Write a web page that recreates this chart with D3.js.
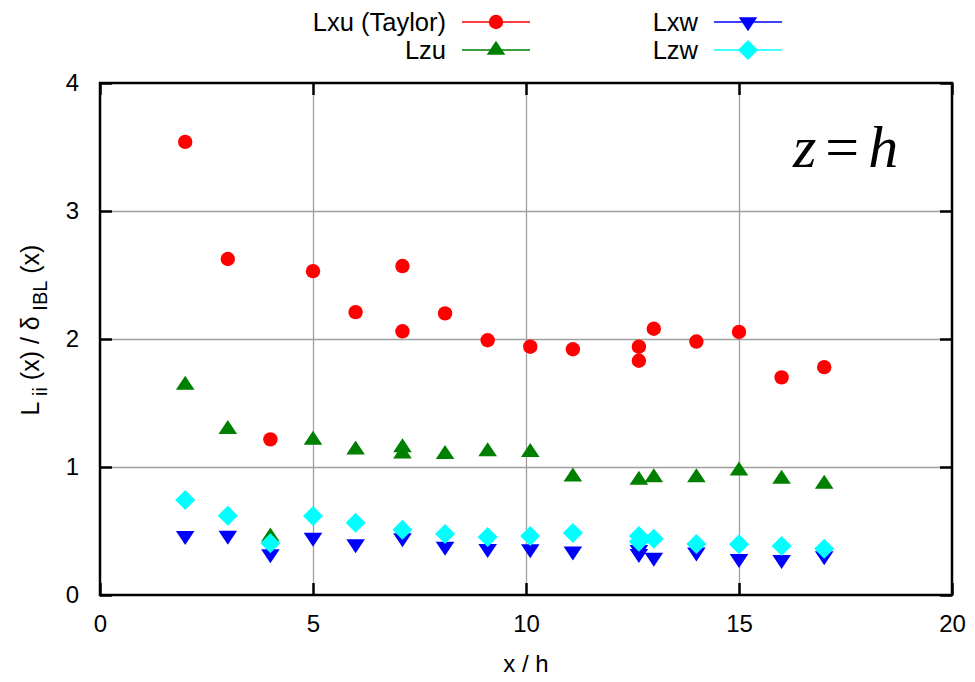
<!DOCTYPE html>
<html>
<head>
<meta charset="utf-8">
<script src="https://cdn.jsdelivr.net/npm/d3@7"></script>
<style>
  body { margin: 0; background: #fff; }
  svg { display: block; font-family: "Liberation Sans", Arial, sans-serif; }
</style>
</head>
<body>
<svg id="chart" width="975" height="682"></svg>
<script>
// ---- data ----
const xTicks = [0, 5, 10, 15, 20];
const yTicks = [0, 1, 2, 3, 4];

const seriesNames = ["Lxu (Taylor)", "Lzu", "Lxw", "Lzw"];

const lxuX = [2, 3, 4, 5, 6, 7.1, 7.1, 8.1, 9.1, 10.1, 11.1, 12.65, 12.65, 13, 14, 15, 16, 17];
const lxuY = [3.54, 2.625, 1.216, 2.53, 2.21, 2.57, 2.06, 2.20, 1.99, 1.94, 1.92, 1.94, 1.83, 2.08, 1.98, 2.055, 1.70, 1.78];

const lzuX = [2, 3, 4, 5, 6, 7.1, 7.1, 8.1, 9.1, 10.1, 11.1, 12.65, 13, 14, 15, 16, 17];
const lzuY = [1.64, 1.294, 0.455, 1.21, 1.134, 1.151, 1.104, 1.10, 1.12, 1.115, 0.924, 0.898, 0.918, 0.917, 0.97, 0.905, 0.867];

const lxwX = [2, 3, 4, 5, 6, 7.1, 8.1, 9.1, 10.1, 11.1, 12.65, 12.65, 13, 14, 15, 16, 17];
const lxwY = [0.4625, 0.465, 0.32, 0.45, 0.398, 0.445, 0.38, 0.361, 0.36, 0.343, 0.354, 0.322, 0.294, 0.335, 0.284, 0.275, 0.306];

const lzwX = [2, 3, 4, 5, 6, 7.1, 8.1, 9.1, 10.1, 11.1, 12.65, 12.65, 13, 14, 15, 16, 17];
const lzwY = [0.742, 0.62, 0.404, 0.617, 0.565, 0.51, 0.477, 0.453, 0.461, 0.484, 0.461, 0.416, 0.44, 0.398, 0.396, 0.383, 0.362];

// ---- layout ----
const svg = d3.select("#chart");
const L = 100, R = 952, T = 83, B = 595;
const x = d3.scaleLinear().domain([0, 20]).range([L, R]);
const y = d3.scaleLinear().domain([0, 4]).range([B, T]);

// grid
svg.append("g").attr("transform", `translate(0,${B})`)
  .call(d3.axisBottom(x).tickValues(xTicks.slice(1, -1)).tickSize(-(B - T)).tickFormat(""))
  .call(g => g.select(".domain").remove())
  .call(g => g.selectAll("line").attr("stroke", "#a0a0a0").attr("stroke-width", 1.3));
svg.append("g").attr("transform", `translate(${L},0)`)
  .call(d3.axisLeft(y).tickValues(yTicks.slice(1, -1)).tickSize(-(R - L)).tickFormat(""))
  .call(g => g.select(".domain").remove())
  .call(g => g.selectAll("line").attr("stroke", "#a0a0a0").attr("stroke-width", 1.3));

// ticks (inward, mirrored)
const tk = 12;
function styleAxis(g) {
  g.attr("font-family", null).attr("font-size", null);
  g.select(".domain").remove();
  g.selectAll("line").attr("stroke", "#000").attr("stroke-width", 2.5);
  g.selectAll("text").attr("fill", "#000").style("font-size", "24px")
    .style("font-family", "'Liberation Sans', Arial, sans-serif");
}
svg.append("g").attr("transform", `translate(0,${B})`)
  .call(d3.axisBottom(x).tickValues(xTicks).tickSizeInner(-tk).tickSizeOuter(0).tickPadding(20).tickFormat(d3.format("d")))
  .call(styleAxis);
svg.append("g").attr("transform", `translate(0,${T})`)
  .call(d3.axisTop(x).tickValues(xTicks).tickSizeInner(-tk).tickSizeOuter(0).tickFormat(""))
  .call(styleAxis);
svg.append("g").attr("transform", `translate(${L},0)`)
  .call(d3.axisLeft(y).tickValues(yTicks).tickSizeInner(-tk).tickSizeOuter(0).tickPadding(21).tickFormat(d3.format("d")))
  .call(styleAxis);
svg.append("g").attr("transform", `translate(${R},0)`)
  .call(d3.axisRight(y).tickValues(yTicks).tickSizeInner(-tk).tickSizeOuter(0).tickFormat(""))
  .call(styleAxis);

// border
svg.append("rect").attr("x", L).attr("y", T).attr("width", R - L).attr("height", B - T)
  .attr("fill", "none").attr("stroke", "#000").attr("stroke-width", 2.5);

// ---- markers ----
const s = 7;
const shapes = {
  circle: (g) => g.append("circle").attr("r", 7.2),
  tri: (g) => g.append("path").attr("d", `M0,${-1.33 * s}L${-1.33 * s},${0.67 * s}L${1.33 * s},${0.67 * s}Z`),
  itri: (g) => g.append("path").attr("d", `M0,${1.33 * s}L${-1.33 * s},${-0.67 * s}L${1.33 * s},${-0.67 * s}Z`),
  diamond: (g) => g.append("path").attr("d", `M0,-10L10,0L0,10L-10,0Z`)
};

const series = [
  { name: seriesNames[0], xs: lxuX, ys: lxuY, color: "#ff0000", shape: "circle" },
  { name: seriesNames[1], xs: lzuX, ys: lzuY, color: "#008000", shape: "tri" },
  { name: seriesNames[2], xs: lxwX, ys: lxwY, color: "#0000ff", shape: "itri" },
  { name: seriesNames[3], xs: lzwX, ys: lzwY, color: "#00ffff", shape: "diamond" }
];

series.forEach(sr => {
  const g = svg.append("g").attr("fill", sr.color);
  sr.xs.forEach((xv, i) => {
    const m = g.append("g").attr("transform", `translate(${x(xv)},${y(sr.ys[i])})`);
    shapes[sr.shape](m);
  });
});

// ---- legend ----
const legPos = [
  { tx: 446, ly: 22, x1: 462, x2: 530 },
  { tx: 446, ly: 50, x1: 462, x2: 530 },
  { tx: 698, ly: 22, x1: 714, x2: 782 },
  { tx: 698, ly: 50, x1: 714, x2: 782 }
];
series.forEach((sr, i) => {
  const p = legPos[i];
  const g = svg.append("g");
  g.append("text").attr("x", p.tx).attr("y", p.ly).attr("dy", "0.36em")
    .attr("text-anchor", "end").style("font-size", "25.5px").attr("fill", "#000").text(sr.name);
  g.append("line").attr("x1", p.x1).attr("x2", p.x2).attr("y1", p.ly).attr("y2", p.ly)
    .attr("stroke", sr.color).attr("stroke-width", 1.5);
  const m = g.append("g").attr("fill", sr.color)
    .attr("transform", `translate(${(p.x1 + p.x2) / 2},${p.ly})`);
  shapes[sr.shape](m);
});

// ---- axis labels ----
svg.append("text").attr("x", (L + R) / 2).attr("y", 672).attr("text-anchor", "middle")
  .style("font-size", "24px").attr("fill", "#000").text("x / h");

const yl = svg.append("text").attr("transform", "translate(39,330) rotate(-90)")
  .attr("text-anchor", "middle").style("font-size", "25px").attr("fill", "#000");
yl.append("tspan").text("L");
yl.append("tspan").style("font-size", "20px").attr("dy", 8).text(" ii");
yl.append("tspan").attr("dy", -8).text(" (x) / δ");
yl.append("tspan").style("font-size", "20px").attr("dy", 8).text(" IBL");
yl.append("tspan").attr("dy", -8).text(" (x)");

// ---- annotation ----
const ann = svg.append("text").attr("x", 793).attr("y", 167)
  .style("font-family", "'Liberation Serif', 'Times New Roman', serif")
  .style("font-size", "60px").attr("fill", "#000");
ann.append("tspan").style("font-style", "italic").text("z");
ann.append("tspan").attr("dx", 9).text("=");
ann.append("tspan").attr("dx", 9).style("font-style", "italic").text("h");
</script>
</body>
</html>
